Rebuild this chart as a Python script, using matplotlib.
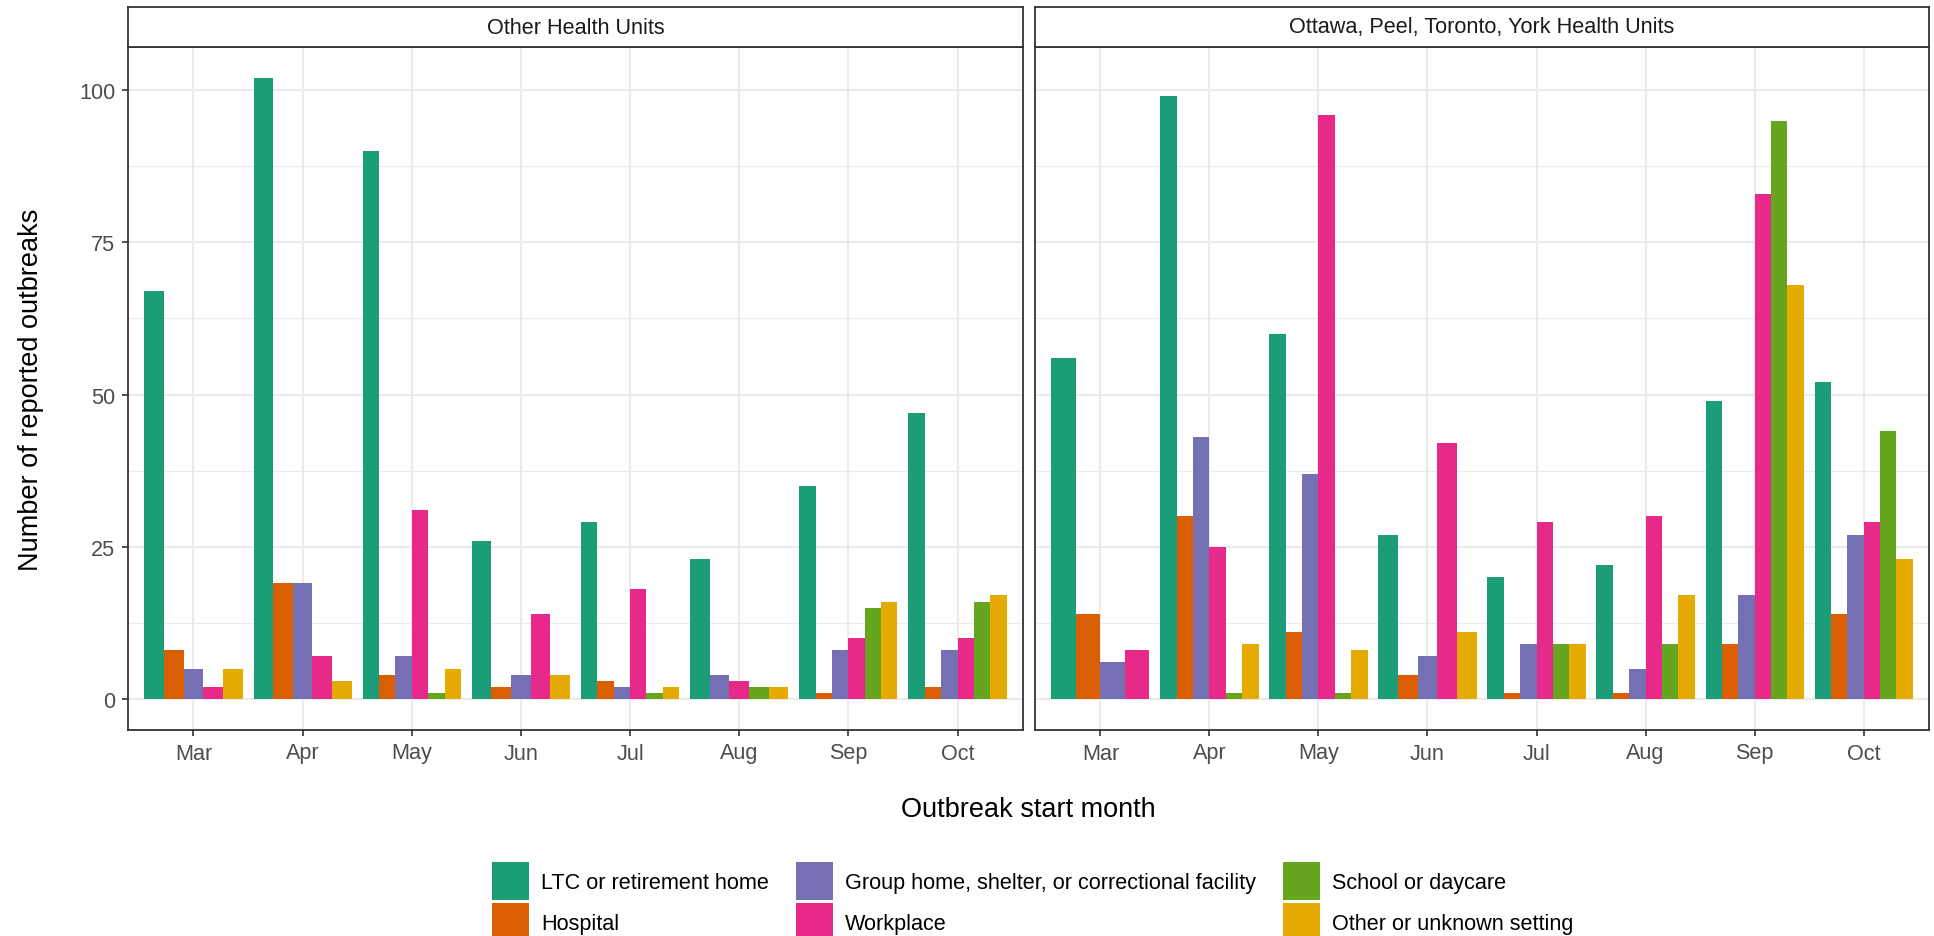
import numpy as np
import matplotlib
matplotlib.use("Agg")
from matplotlib import pyplot as plt
from matplotlib.patches import Patch

plt.rcParams['font.family'] = ['Liberation Sans', 'DejaVu Sans']

months = ['Mar', 'Apr', 'May', 'Jun', 'Jul', 'Aug', 'Sep', 'Oct']
settings = ['LTC or retirement home', 'Hospital',
            'Group home, shelter, or correctional facility', 'Workplace',
            'School or daycare', 'Other or unknown setting']
colors = ['#1B9E77', '#D95F02', '#7570B3', '#E7298A', '#66A61E', '#E6AB02']
panels = ['Other Health Units', 'Ottawa, Peel, Toronto, York Health Units']

# rows = setting, columns = month (0 = no outbreaks -> no bar)
other_hu = [
    [67, 102, 90, 26, 29, 23, 35, 47],   # LTC
    [8, 19, 4, 2, 3, 0, 1, 2],           # Hospital
    [5, 19, 7, 4, 2, 4, 8, 8],           # Group home
    [2, 7, 31, 14, 18, 3, 10, 10],       # Workplace
    [0, 0, 1, 0, 1, 2, 15, 16],          # School
    [5, 3, 5, 4, 2, 2, 16, 17],          # Other
]
optym_hu = [
    [56, 99, 60, 27, 20, 22, 49, 52],
    [14, 30, 11, 4, 1, 1, 9, 14],
    [6, 43, 37, 7, 9, 5, 17, 27],
    [8, 25, 96, 42, 29, 30, 83, 29],
    [0, 1, 1, 0, 9, 9, 95, 44],
    [0, 9, 8, 11, 9, 17, 68, 23],
]

W, H = 1934, 937
fig = plt.figure(figsize=(W / 100, H / 100), dpi=100)

boxes = [(128, 1023), (1035, 1929)]
top, bottom, strip_top = 48, 731, 8
dark = '#333333'

axes = []
for p, (x0, x1) in enumerate(boxes):
    ax = fig.add_axes([x0 / W, 1 - bottom / H, (x1 - x0) / W, (bottom - top) / H])
    data = [other_hu, optym_hu][p]
    for i in range(len(months)):
        present = [k for k in range(len(settings)) if data[k][i] > 0]
        n = len(present)
        w = 0.9 / n
        for j, k in enumerate(present):
            ax.bar(i - 0.45 + w * (j + 0.5), data[k][i], width=w, color=colors[k], zorder=3)
    ax.set_xlim(-0.6, len(months) - 0.4)
    ax.set_ylim(-5.1, 107.1)
    ax.set_xticks(range(len(months)))
    ax.set_xticklabels(months)
    ax.set_yticks([0, 25, 50, 75, 100])
    ax.set_yticks([12.5, 37.5, 62.5, 87.5], minor=True)
    ax.grid(which='major', color='#EBEBEB', lw=1.5, zorder=0)
    ax.grid(which='minor', axis='y', color='#EBEBEB', lw=0.8, zorder=0)
    ax.tick_params(which='major', labelsize=15.6, labelcolor='#4D4D4D', color=dark,
                   length=4, width=1.2, pad=5)
    ax.tick_params(which='minor', length=0)
    for s in ax.spines.values():
        s.set_color(dark)
        s.set_linewidth(1.3)
    if p == 1:
        ax.tick_params(axis='y', left=False, labelleft=False)
    axes.append(ax)

    sax = fig.add_axes([x0 / W, 1 - top / H, (x1 - x0) / W, (top - strip_top) / H])
    sax.set_xticks([])
    sax.set_yticks([])
    for s in sax.spines.values():
        s.set_color(dark)
        s.set_linewidth(1.3)
    sax.text(0.5, 0.5, panels[p], ha='center', va='center', fontsize=15.6, color='#1A1A1A',
             transform=sax.transAxes)

fig.text(31 / W, 1 - (top + bottom) / 2 / H, 'Number of reported outbreaks', rotation=90,
         ha='center', va='center', fontsize=19.5)
fig.text((boxes[0][0] + boxes[1][1]) / 2 / W, 1 - 810 / H, 'Outbreak start month',
         ha='center', va='center', fontsize=19.5)

handles = [Patch(facecolor=c, label=s) for c, s in zip(colors, settings)]
fig.legend(handles=handles, ncol=3, loc='center', bbox_to_anchor=(0.534, 0.037),
           frameon=False, fontsize=15.6, handlelength=1.7, handleheight=2.3,
           handletextpad=0.55, columnspacing=1.25, labelspacing=0.15, borderpad=0)

fig.savefig('out.png', dpi=100)
